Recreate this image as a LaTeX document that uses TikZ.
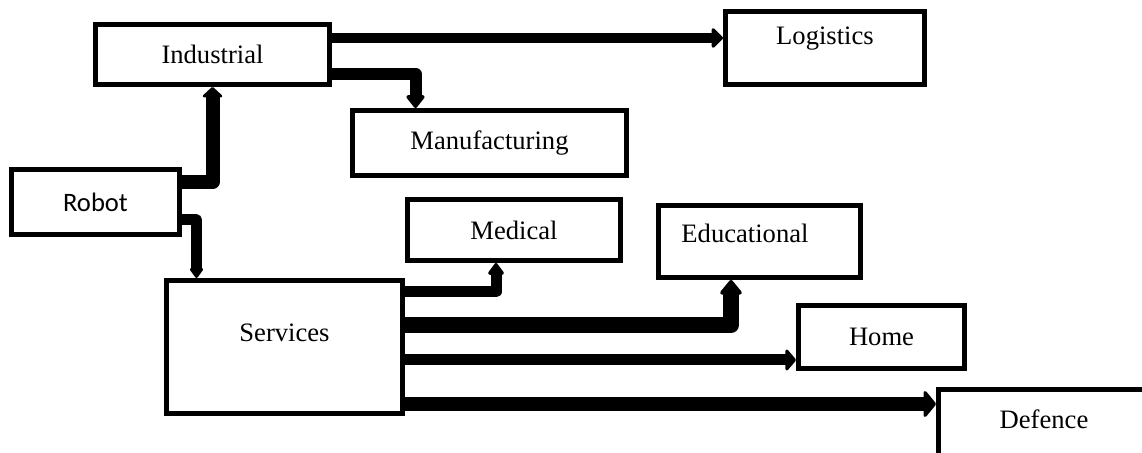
\documentclass[tikz,border=0pt]{standalone}
\usepackage{fontspec}
\setmainfont{Liberation Serif}
\newfontfamily\robotfont{Carlito}
\usetikzlibrary{arrows.meta}

\tikzset{
  box/.style={draw, line width=2.5pt, inner sep=0pt,
    font=\fontsize{13.3}{16}\selectfont},
  flow/.style n args={3}{line width=#1, line join=round,
    -{Triangle[width=#2, length=#3, round]}},
}

\begin{document}
\begin{tikzpicture}[x=0.5pt, y=-0.5pt]
    \clip (0,0) rectangle (1142,453);

    % boxes
    \node[box, minimum width=84pt, minimum height=32.5pt,
      font=\robotfont\fontsize{13.3}{16}\selectfont] (rob) at (95.5,202) {Robot};
    \node[box, minimum width=117pt, minimum height=30pt] (ind) at (212.5,54.5) {Industrial};
    \node[box, minimum width=99.5pt, minimum height=36.5pt,
      label={[yshift=4.5pt, font=\fontsize{13.3}{16}\selectfont]center:Logistics}] (log) at (825,48) {};
    \node[box, minimum width=137pt, minimum height=32.5pt] (man) at (489.5,143) {Manufacturing};
    \node[box, minimum width=118pt, minimum height=66.5pt,
      label={[yshift=7pt, font=\fontsize{13.3}{16}\selectfont]center:Services}] (serv) at (284.5,347) {};
    \node[box, minimum width=106.5pt, minimum height=30.5pt] (med) at (514,230) {Medical};
    \node[box, minimum width=101pt, minimum height=36pt,
      label={[shift={(-7.25pt,4.25pt)}, font=\fontsize{13.3}{16}\selectfont]center:Educational}] (edu) at (759.5,241.5) {};
    \node[box, minimum width=83pt, minimum height=31.5pt] (home) at (881.5,337) {Home};
    \node[box, minimum width=109.5pt, minimum height=36.5pt,
      label={[shift={(-2pt,3.5pt)}, font=\fontsize{13.3}{16}\selectfont]center:Defence}] (def) at (1048,426) {};

    % connectors
    \draw[flow={7pt}{11.5pt}{5.5pt}] ([yshift=10pt]rob.east) -| (ind.south);
    \draw[flow={5.5pt}{7.5pt}{5.5pt}] ([yshift=-9pt]rob.east) -| ([xshift=16.25pt]serv.north west);
    \draw[flow={5.25pt}{11.5pt}{6pt}] ([yshift=8.25pt]ind.east) -- ([yshift=5pt]log.west);
    \draw[flow={6pt}{10.5pt}{7pt}] ([yshift=-9.75pt]ind.east) -| ([xshift=32.75pt]man.north west);
    \draw[flow={5.5pt}{9pt}{6.5pt}] ([yshift=27.5pt]serv.east) -| ([xshift=-9pt]med.south);
    \draw[flow={8pt}{12.5pt}{8pt}] ([yshift=11pt]serv.east) -| ([xshift=-14.25pt]edu.south);
    \draw[flow={5.5pt}{12.5pt}{5.5pt}] ([yshift=-6.5pt]serv.east) -- ([yshift=-11.5pt]home.west);
    \draw[flow={7pt}{15.5pt}{6.5pt}] ([yshift=-28.5pt]serv.east) -- ([yshift=11pt]def.west);
\end{tikzpicture}
\end{document}
